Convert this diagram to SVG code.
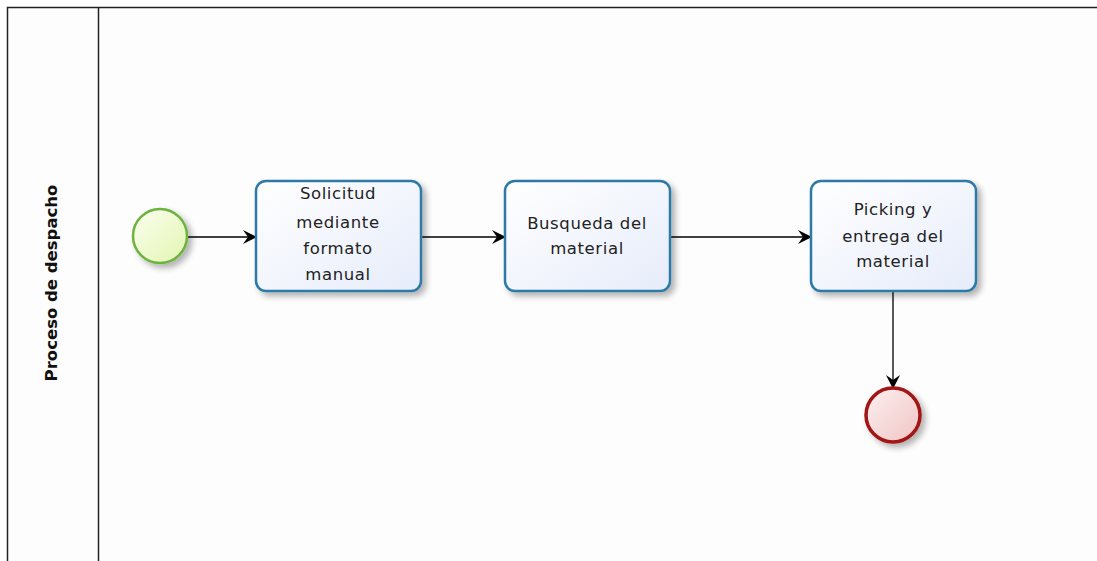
<svg xmlns="http://www.w3.org/2000/svg" width="1097" height="561" viewBox="0 0 1097 561">
<defs>
<linearGradient id="gTask" x1="0" y1="0" x2="1" y2="1"><stop offset="0" stop-color="#ffffff"/><stop offset="1" stop-color="#e6ecfa"/></linearGradient>
<linearGradient id="gStart" x1="0" y1="0" x2="1" y2="1"><stop offset="0" stop-color="#fbfff0"/><stop offset="1" stop-color="#e2f5b0"/></linearGradient>
<linearGradient id="gEnd" x1="0" y1="0" x2="1" y2="1"><stop offset="0" stop-color="#fdf0f0"/><stop offset="1" stop-color="#f0c4c4"/></linearGradient>
<filter id="sh" x="-20%" y="-20%" width="150%" height="150%"><feGaussianBlur in="SourceAlpha" stdDeviation="3"/><feOffset dx="4" dy="4"/><feComponentTransfer><feFuncA type="linear" slope="0.3"/></feComponentTransfer><feMerge><feMergeNode/><feMergeNode in="SourceGraphic"/></feMerge></filter>
<marker id="arr" viewBox="0 0 14 14" refX="13" refY="7" markerWidth="14" markerHeight="14" markerUnits="userSpaceOnUse" orient="auto"><path d="M0,0 L14,7 L0,14 L5,7 Z" fill="#000"/></marker>
</defs>
<style>
.task{fill:url(#gTask);stroke:#2e7aa6;stroke-width:2.5}
.lbl{font-family:"DejaVu Sans",sans-serif;font-size:16.5px;fill:#222;text-anchor:middle;letter-spacing:0.6px}
.conn{stroke:#000;stroke-width:1.3;fill:none;marker-end:url(#arr)}
</style>
<rect width="1097" height="561" fill="#fff"/>
<g id="pool">
<rect x="7.5" y="7.5" width="1100" height="560" fill="#fdfdfd" stroke="#222" stroke-width="1.5"/>
<line x1="98.5" y1="7" x2="98.5" y2="561" stroke="#222" stroke-width="1.5"/>
<text transform="translate(57,283) rotate(-90)" font-family="DejaVu Sans,sans-serif" font-size="16.5px" font-weight="bold" text-anchor="middle" fill="#111">Proceso de despacho</text>
</g>
<g id="connectors">
<line class="conn" x1="188" y1="237" x2="256" y2="237"/>
<line class="conn" x1="421" y1="237" x2="505" y2="237"/>
<line class="conn" x1="670" y1="237" x2="811" y2="237"/>
<line class="conn" x1="893" y1="291" x2="893" y2="388"/>
</g>
<g id="start"><circle cx="160" cy="236" r="27" fill="url(#gStart)" stroke="#6db33f" stroke-width="2.5" filter="url(#sh)"/></g>
<g id="task1"><rect class="task" x="256" y="181" width="165" height="110" rx="10" filter="url(#sh)"/>
<text class="lbl"><tspan x="338" y="199">Solicitud</tspan><tspan x="338" y="228">mediante</tspan><tspan x="338" y="254">formato</tspan><tspan x="338" y="280">manual</tspan></text></g>
<g id="task2"><rect class="task" x="505" y="181" width="165" height="110" rx="10" filter="url(#sh)"/>
<text class="lbl"><tspan x="587" y="229">Busqueda del</tspan><tspan x="587" y="254">material</tspan></text></g>
<g id="task3"><rect class="task" x="811" y="181" width="165" height="110" rx="10" filter="url(#sh)"/>
<text class="lbl"><tspan x="893" y="215">Picking y</tspan><tspan x="893" y="242">entrega del</tspan><tspan x="893" y="267">material</tspan></text></g>
<g id="end"><circle cx="893" cy="415" r="27" fill="url(#gEnd)" stroke="#a31515" stroke-width="3.5" filter="url(#sh)"/></g>
</svg>
